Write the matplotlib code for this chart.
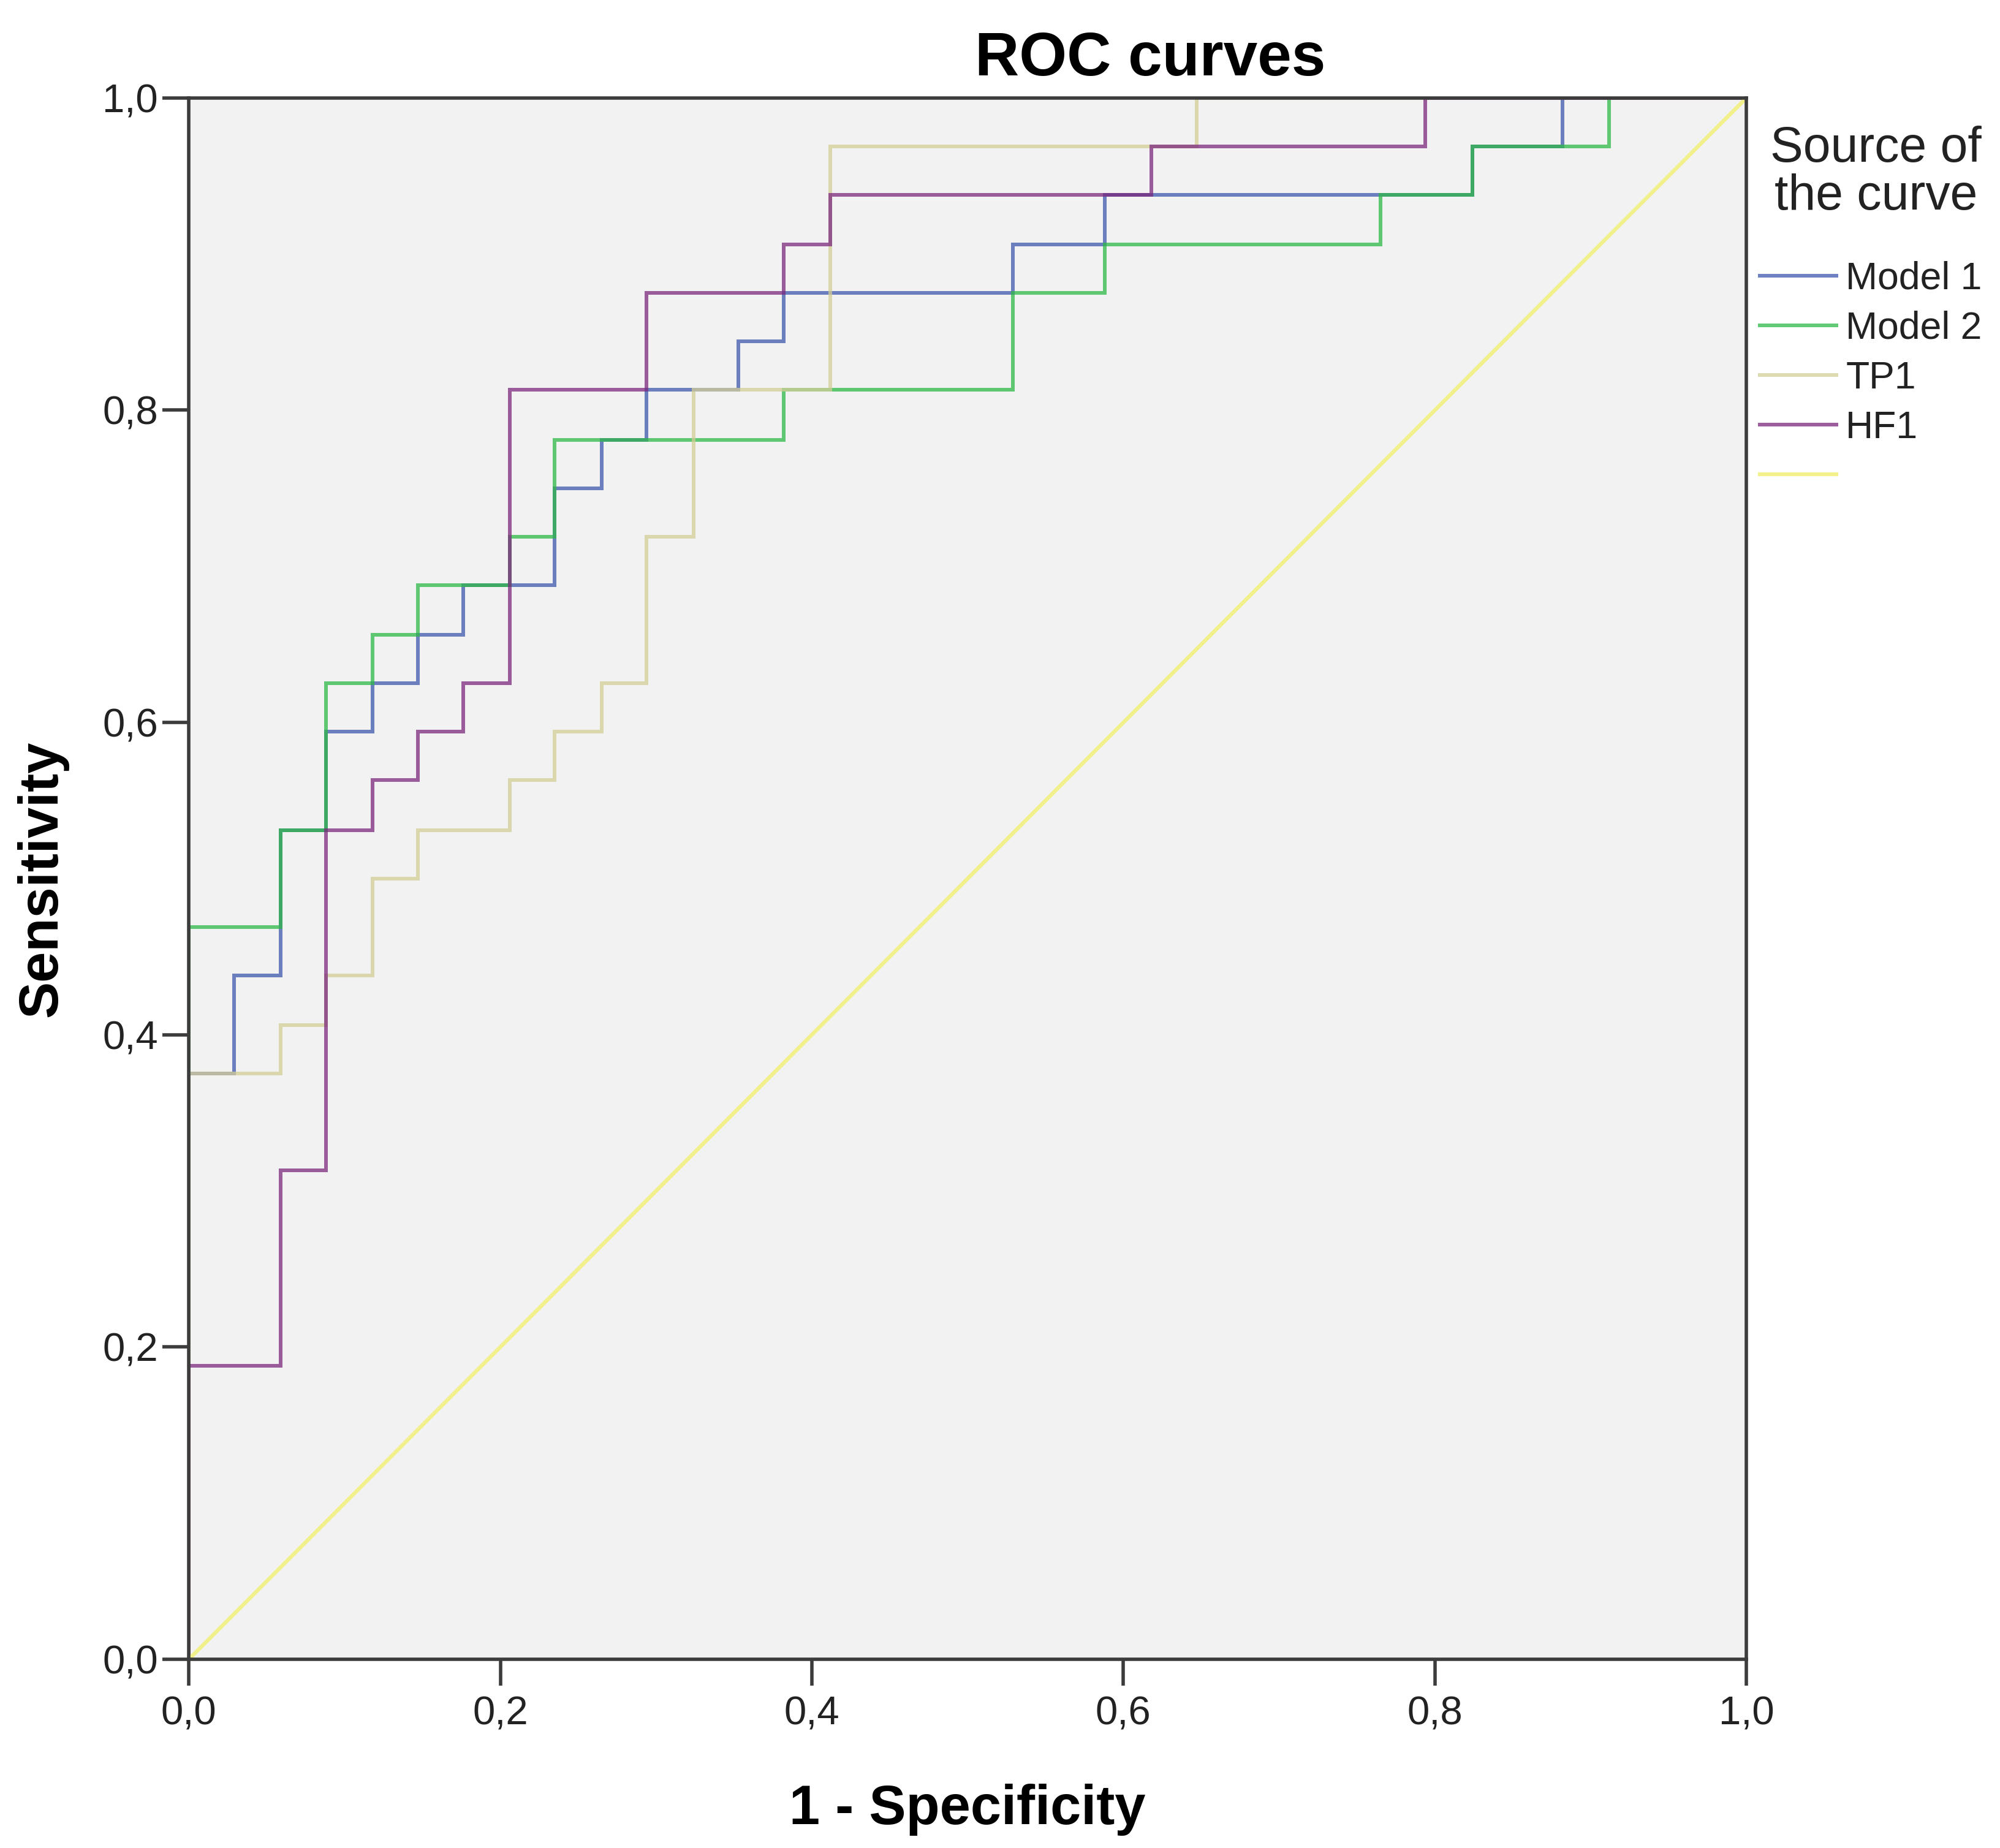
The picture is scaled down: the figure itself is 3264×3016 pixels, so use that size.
import matplotlib
matplotlib.use('Agg')
import matplotlib.pyplot as plt

plt.rcParams['font.family'] = ['Liberation Sans', 'DejaVu Sans']

# ROC step points (1 - specificity, sensitivity)
m1_fpr = [0, 0, 0.029, 0.059, 0.088, 0.118, 0.147, 0.176, 0.235, 0.265, 0.294, 0.353, 0.382, 0.529, 0.588, 0.824, 0.882, 1.0]
m1_tpr = [0, 0.375, 0.438, 0.531, 0.594, 0.625, 0.656, 0.688, 0.75, 0.781, 0.813, 0.844, 0.875, 0.906, 0.938, 0.969, 1.0, 1.0]

m2_fpr = [0, 0, 0.059, 0.088, 0.118, 0.147, 0.206, 0.235, 0.382, 0.529, 0.588, 0.765, 0.824, 0.912, 1.0]
m2_tpr = [0, 0.469, 0.531, 0.625, 0.656, 0.688, 0.719, 0.781, 0.813, 0.875, 0.906, 0.938, 0.969, 1.0, 1.0]

tp1_fpr = [0, 0, 0.059, 0.088, 0.118, 0.147, 0.206, 0.235, 0.265, 0.294, 0.324, 0.412, 0.647, 1.0]
tp1_tpr = [0, 0.375, 0.406, 0.438, 0.5, 0.531, 0.563, 0.594, 0.625, 0.719, 0.813, 0.969, 1.0, 1.0]

hf1_fpr = [0, 0, 0.059, 0.088, 0.118, 0.147, 0.176, 0.206, 0.294, 0.382, 0.412, 0.618, 0.794, 1.0]
hf1_tpr = [0, 0.188, 0.313, 0.531, 0.563, 0.594, 0.625, 0.813, 0.875, 0.906, 0.938, 0.969, 1.0, 1.0]

ref_line = [0, 1]

labels = ['Model 1', 'Model 2', 'TP1', 'HF1', '']
colors = ['#3e58ac', '#2eb848', '#d3ce97', '#7c287d', '#f3f080']

ticks = [0, 0.2, 0.4, 0.6, 0.8, 1.0]
tick_labels = ['0,0', '0,2', '0,4', '0,6', '0,8', '1,0']

fig = plt.figure(figsize=(32.64, 30.16), dpi=100)
ax = fig.add_axes([0.0944, 0.1021, 0.7788, 0.8449])
ax.set_facecolor('#f1f2f1')

curves = [(m1_fpr, m1_tpr), (m2_fpr, m2_tpr), (tp1_fpr, tp1_tpr), (hf1_fpr, hf1_tpr)]
handles = []
for (x, y), c in zip(curves, colors[:4]):
    h, = ax.step(x, y, where='post', color=c, lw=4.3, alpha=0.75, solid_joinstyle='miter')
    handles.append(h)
h, = ax.plot(ref_line, ref_line, color=colors[4], lw=4.5, alpha=0.9)
handles.append(h)

ax.set_xlim(0, 1)
ax.set_ylim(0, 1)
ax.set_xticks(ticks)
ax.set_xticklabels(tick_labels)
ax.set_yticks(ticks)
ax.set_yticklabels(tick_labels)
ax.tick_params(direction='out', length=31, width=4, labelsize=47, color='#3c3c3c',
               labelcolor='#222222')
ax.tick_params(axis='x', pad=12)
ax.tick_params(axis='y', pad=5)
for s in ax.spines.values():
    s.set_color('#3c3c3c')
    s.set_linewidth(4)

ax.set_xlabel('1 - Specificity', fontsize=65, fontweight='bold')
ax.xaxis.label.set_va('baseline')
ax.xaxis.set_label_coords(0.5, -0.1056)
ax.set_ylabel('Sensitivity', fontsize=65, fontweight='bold')
ax.yaxis.label.set_va('baseline')
ax.yaxis.set_label_coords(-0.085, 0.5)

fig.text(0.575, 0.9592, 'ROC curves', ha='center', va='baseline', fontsize=72, fontweight='bold')

# legend title drawn on its own so the gap to the entries matches
fig.text(0.938, 0.9065, 'Source of\nthe curve', ha='center', va='center',
         multialignment='center', fontsize=58, linespacing=1.05, color='#222222')

leg = ax.legend(handles, labels, loc='upper left',
                bbox_to_anchor=(1.0087, 0.8956), frameon=False, fontsize=45,
                handlelength=2.0, handletextpad=0.24,
                labelspacing=0.35, borderpad=0, borderaxespad=0)
for t in leg.get_texts():
    t.set_color('#222222')

fig.savefig('out.png', dpi=100, facecolor='white')
